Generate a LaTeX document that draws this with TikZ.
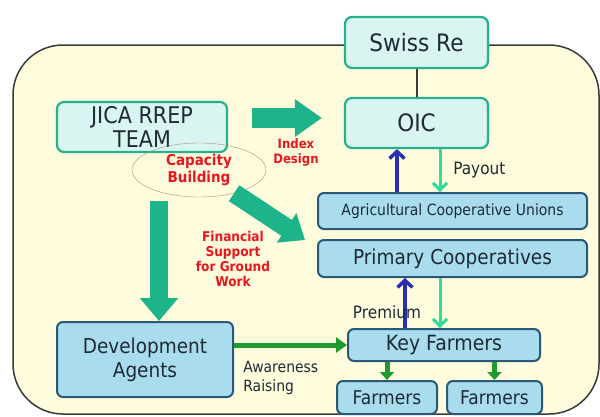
\documentclass[tikz,border=0pt]{standalone}
\usepackage{fontspec}
\setmainfont{DejaVu Sans}[FakeStretch=0.9]
\usetikzlibrary{arrows.meta,shapes.geometric}

\definecolor{bgyellow}{HTML}{FFFBDD}
\definecolor{framegray}{HTML}{3A3A3A}
\definecolor{boxcyan}{HTML}{D9F5F1}
\definecolor{boxteal}{HTML}{27B08C}
\definecolor{boxsky}{HTML}{A9DCEC}
\definecolor{boxblue}{HTML}{2C5878}
\definecolor{arrowteal}{HTML}{1DB48A}
\definecolor{payoutgreen}{HTML}{2FDC9C}
\definecolor{upblue}{HTML}{2A2EB0}
\definecolor{darkgreen}{HTML}{1E9A2E}
\definecolor{labelred}{HTML}{E8161E}
\definecolor{ringbrown}{HTML}{A39378}
\definecolor{txtdark}{HTML}{1E2B36}

\begin{document}
\begin{tikzpicture}[x=1pt,y=-1pt,semithick]
  \tikzstyle{tealbox}=[draw=boxteal,line width=2.2pt,fill=boxcyan,rounded corners=7pt,
                       text=txtdark,inner sep=0pt,align=center]
  \tikzstyle{bluebox}=[draw=boxblue,line width=2pt,fill=boxsky,rounded corners=6pt,
                       text=txtdark,inner sep=0pt,align=center]
  \tikzstyle{redlabel}=[text=labelred,align=center,inner sep=0pt]
  \tikzstyle{bigarrow}=[draw=arrowteal,line width=20pt]
  \tikzstyle{thinup}=[draw=upblue,line width=3.5pt,-{Straight Barb[length=7pt,width=15pt]}]
  \tikzstyle{thindown}=[draw=payoutgreen,line width=3pt,-{Straight Barb[length=7pt,width=14pt]}]
  \tikzstyle{greenarrow}=[draw=darkgreen,line width=5pt]

  \useasboundingbox (0,0) rectangle (600,416);
  \draw[fill=bgyellow,draw=framegray,line width=1.5pt,rounded corners=50pt]
       (13,45) rectangle (599,414);

  % top row
  \node[tealbox,minimum width=143pt,minimum height=51pt,font=\fontsize{24}{26}\selectfont]
       (swiss) at (416.5,42.5) {Swiss Re};
  \node[tealbox,minimum width=143pt,minimum height=50pt,font=\fontsize{24}{26}\selectfont]
       (oic) at (416.5,123) {OIC};
  \node[tealbox,minimum width=170pt,minimum height=50pt,font=\fontsize{23}{24}\selectfont]
       (jica) at (142,127) {JICA RREP\\TEAM};

  % cooperatives
  \node[bluebox,minimum width=269pt,minimum height=36pt,font=\fontsize{15.5}{18}\selectfont]
       (acu) at (452.5,211) {Agricultural Cooperative Unions};
  \node[bluebox,minimum width=269pt,minimum height=37pt,font=\fontsize{20.5}{24}\selectfont]
       (pc) at (452.5,258.5) {Primary Cooperatives};
  \node[bluebox,minimum width=192pt,minimum height=32pt,font=\fontsize{21}{24}\selectfont]
       (kf) at (444,345) {Key Farmers};
  \node[bluebox,minimum width=100pt,minimum height=33pt,font=\fontsize{19}{22}\selectfont]
       (f1) at (387,397.5) {Farmers};
  \node[bluebox,minimum width=95pt,minimum height=33pt,font=\fontsize{19}{22}\selectfont]
       (f2) at (494.5,397.5) {Farmers};
  \node[bluebox,minimum width=176pt,minimum height=75pt,font=\fontsize{20.5}{24}\selectfont]
       (dev) at (145,359.5) {Development\\Agents};

  \node[ellipse,draw=ringbrown,thin,minimum width=134pt,minimum height=54pt,inner sep=0pt,
        redlabel,font=\bfseries\fontsize{15}{17}\selectfont]
       (cap) at (199,170) {Capacity\\Building};

  % helper points
  \coordinate (ia) at (252,118);
  \coordinate (dn) at (159,201);
  \coordinate (db) at (305,240);
  \coordinate (xa) at (397,0);
  \coordinate (xb) at (405,0);
  \coordinate (xc) at (440,0);

  % block arrows
  \draw[bigarrow,-{Triangle[width=36pt,length=27pt]},shorten >=22pt] (ia) -- (ia -| oic.west);
  \draw[bigarrow,line width=18pt,-{Triangle[width=37pt,length=23pt]}] (dn) -- (dn |- dev.north);
  \draw[bigarrow,line width=19pt,-{Triangle[width=34pt,length=22pt]}] (cap) -- (db);

  % thin connectors
  \draw[framegray,line width=2pt] (swiss) -- (oic);
  \draw[thinup] (acu.north -| xa) -- (oic.south -| xa);
  \draw[thindown] (oic.south -| xc) -- (acu.north -| xc);
  \draw[thinup] (kf.north -| xb) -- (pc.south -| xb);
  \draw[thindown] (pc.south -| xc) -- (kf.north -| xc);
  \draw[greenarrow,-{Triangle[width=15pt,length=11pt]}] (dev.east |- kf.west) -- (kf.west);
  \draw[greenarrow,-{Triangle[width=14pt,length=8pt]}] (kf.south -| f1) -- (f1.north);
  \draw[greenarrow,-{Triangle[width=14pt,length=8pt]}] (kf.south -| f2) -- (f2.north);

  % labels
  \node[redlabel,font=\bfseries\fontsize{13}{15}\selectfont] (idx) at (296,152) {Index\\Design};
  \node[redlabel,font=\bfseries\fontsize{13.5}{15}\selectfont] (fin) at (233,259)
       {Financial\\Support\\for Ground\\Work};
  \node[text=txtdark,anchor=west,inner sep=0pt,font=\fontsize{17}{20}\selectfont]
       (pay) at (453,170) {Payout};
  \node[text=txtdark,inner sep=0pt,font=\fontsize{17}{20}\selectfont]
       (prem) at (387,312) {Premium};
  \node[text=txtdark,anchor=west,align=left,inner sep=0pt,font=\fontsize{15.5}{19}\selectfont]
       (aware) at (243,378) {Awareness\\Raising};
\end{tikzpicture}
\end{document}
